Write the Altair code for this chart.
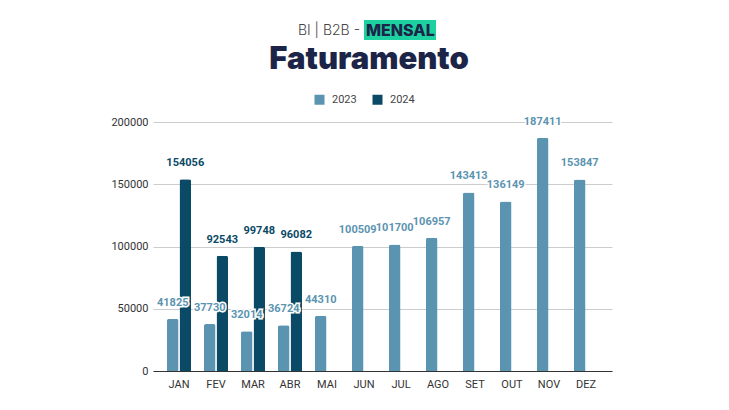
import altair as alt
import pandas as pd

months = ["JAN", "FEV", "MAR", "ABR", "MAI", "JUN", "JUL", "AGO", "SET", "OUT", "NOV", "DEZ"]
years = ["2023", "2024"]
values_2023 = [41825, 37730, 32014, 36724, 44310, 100509, 101700, 106957, 143413, 136149, 187411, 153847]
values_2024 = [154056, 92543, 99748, 96082]
y_ticks = [0, 50000, 100000, 150000, 200000]

colors = ["#5b94b1", "#0b4a66"]
navy = "#1c2548"

rows = []
for m, v in zip(months, values_2023):
    rows.append({"mes": m, "ano": "2023", "valor": v})
for m, v in zip(months, values_2024):
    rows.append({"mes": m, "ano": "2024", "valor": v})
df = pd.DataFrame(rows)

W, H = 459, 249

x_enc = alt.X("mes:N", sort=months, title=None,
              scale=alt.Scale(domain=months, paddingInner=0.35, paddingOuter=0.378),
              axis=alt.Axis(labelAngle=0, ticks=False, domainColor="#333333",
                            labelColor="#333333", labelFont="Roboto", labelFontSize=11,
                            labelPadding=7, grid=False))
xo_enc = alt.XOffset("ano:N", scale=alt.Scale(domain=years, paddingInner=0.08))
y_enc = alt.Y("valor:Q", title=None,
              scale=alt.Scale(domain=[0, 200000], nice=False),
              axis=alt.Axis(values=y_ticks, format="d", ticks=False, domain=False,
                            gridColor="#cccccc", labelColor="#333333", labelFont="Roboto",
                            labelFontSize=11, labelPadding=5))
color_scale = alt.Scale(domain=years, range=colors)

base = alt.Chart(df)

bars = base.mark_bar(cornerRadiusTopLeft=2, cornerRadiusTopRight=2).encode(
    x=x_enc, xOffset=xo_enc, y=y_enc,
    color=alt.Color("ano:N", scale=color_scale, title=None,
                    legend=alt.Legend(orient="none", legendX=161, legendY=-28,
                                      direction="horizontal", symbolType="square",
                                      symbolSize=100, symbolStrokeWidth=0,
                                      labelFont="Roboto", labelFontSize=11,
                                      labelColor="#444444", labelOffset=7,
                                      columnPadding=15)),
)

halo = base.mark_text(font="Roboto", fontSize=11, fontWeight="bold", dy=-13,
                      baseline="alphabetic", stroke="white", strokeWidth=3,
                      fill="white").encode(
    x=alt.X("mes:N", sort=months), xOffset=alt.XOffset("ano:N"), y=alt.Y("valor:Q"),
    text=alt.Text("valor:Q", format="d"),
)

labels = base.mark_text(font="Roboto", fontSize=11, fontWeight="bold", dy=-13,
                        baseline="alphabetic").encode(
    x=alt.X("mes:N", sort=months), xOffset=alt.XOffset("ano:N"), y=alt.Y("valor:Q"),
    text=alt.Text("valor:Q", format="d"),
    color=alt.Color("ano:N", scale=color_scale, legend=None),
)

hdr = pd.DataFrame({"a": [0]})
highlight = alt.Chart(hdr).mark_rect(color="#1dd1a1").encode(
    x=alt.value(211), x2=alt.value(283), y=alt.value(-102), y2=alt.value(-82))
sub1 = alt.Chart(hdr).mark_text(text="BI | B2B -", align="right", baseline="middle",
                                font="Inter", fontSize=14, fontWeight=300,
                                color="#444444").encode(x=alt.value(207), y=alt.value(-91))
sub2 = alt.Chart(hdr).mark_text(text="MENSAL", align="left", baseline="middle",
                                font="Inter", fontSize=16, fontWeight=800,
                                color=navy).encode(x=alt.value(213), y=alt.value(-91))
title = alt.Chart(hdr).mark_text(text="Faturamento", align="center", baseline="middle",
                                 font="Inter", fontSize=31, fontWeight=900,
                                 color=navy).encode(x=alt.value(216), y=alt.value(-62))

chart = alt.layer(bars, halo, labels, highlight, sub1, sub2, title).properties(
    width=W, height=H,
    background="white",
    autosize=alt.AutoSizeParams(type="none"),
    padding={"left": 145, "top": 114, "right": 109, "bottom": 31},
).configure_view(stroke="transparent", strokeWidth=0)

chart.save("out.html", embed_options={"renderer": "svg", "actions": False})
